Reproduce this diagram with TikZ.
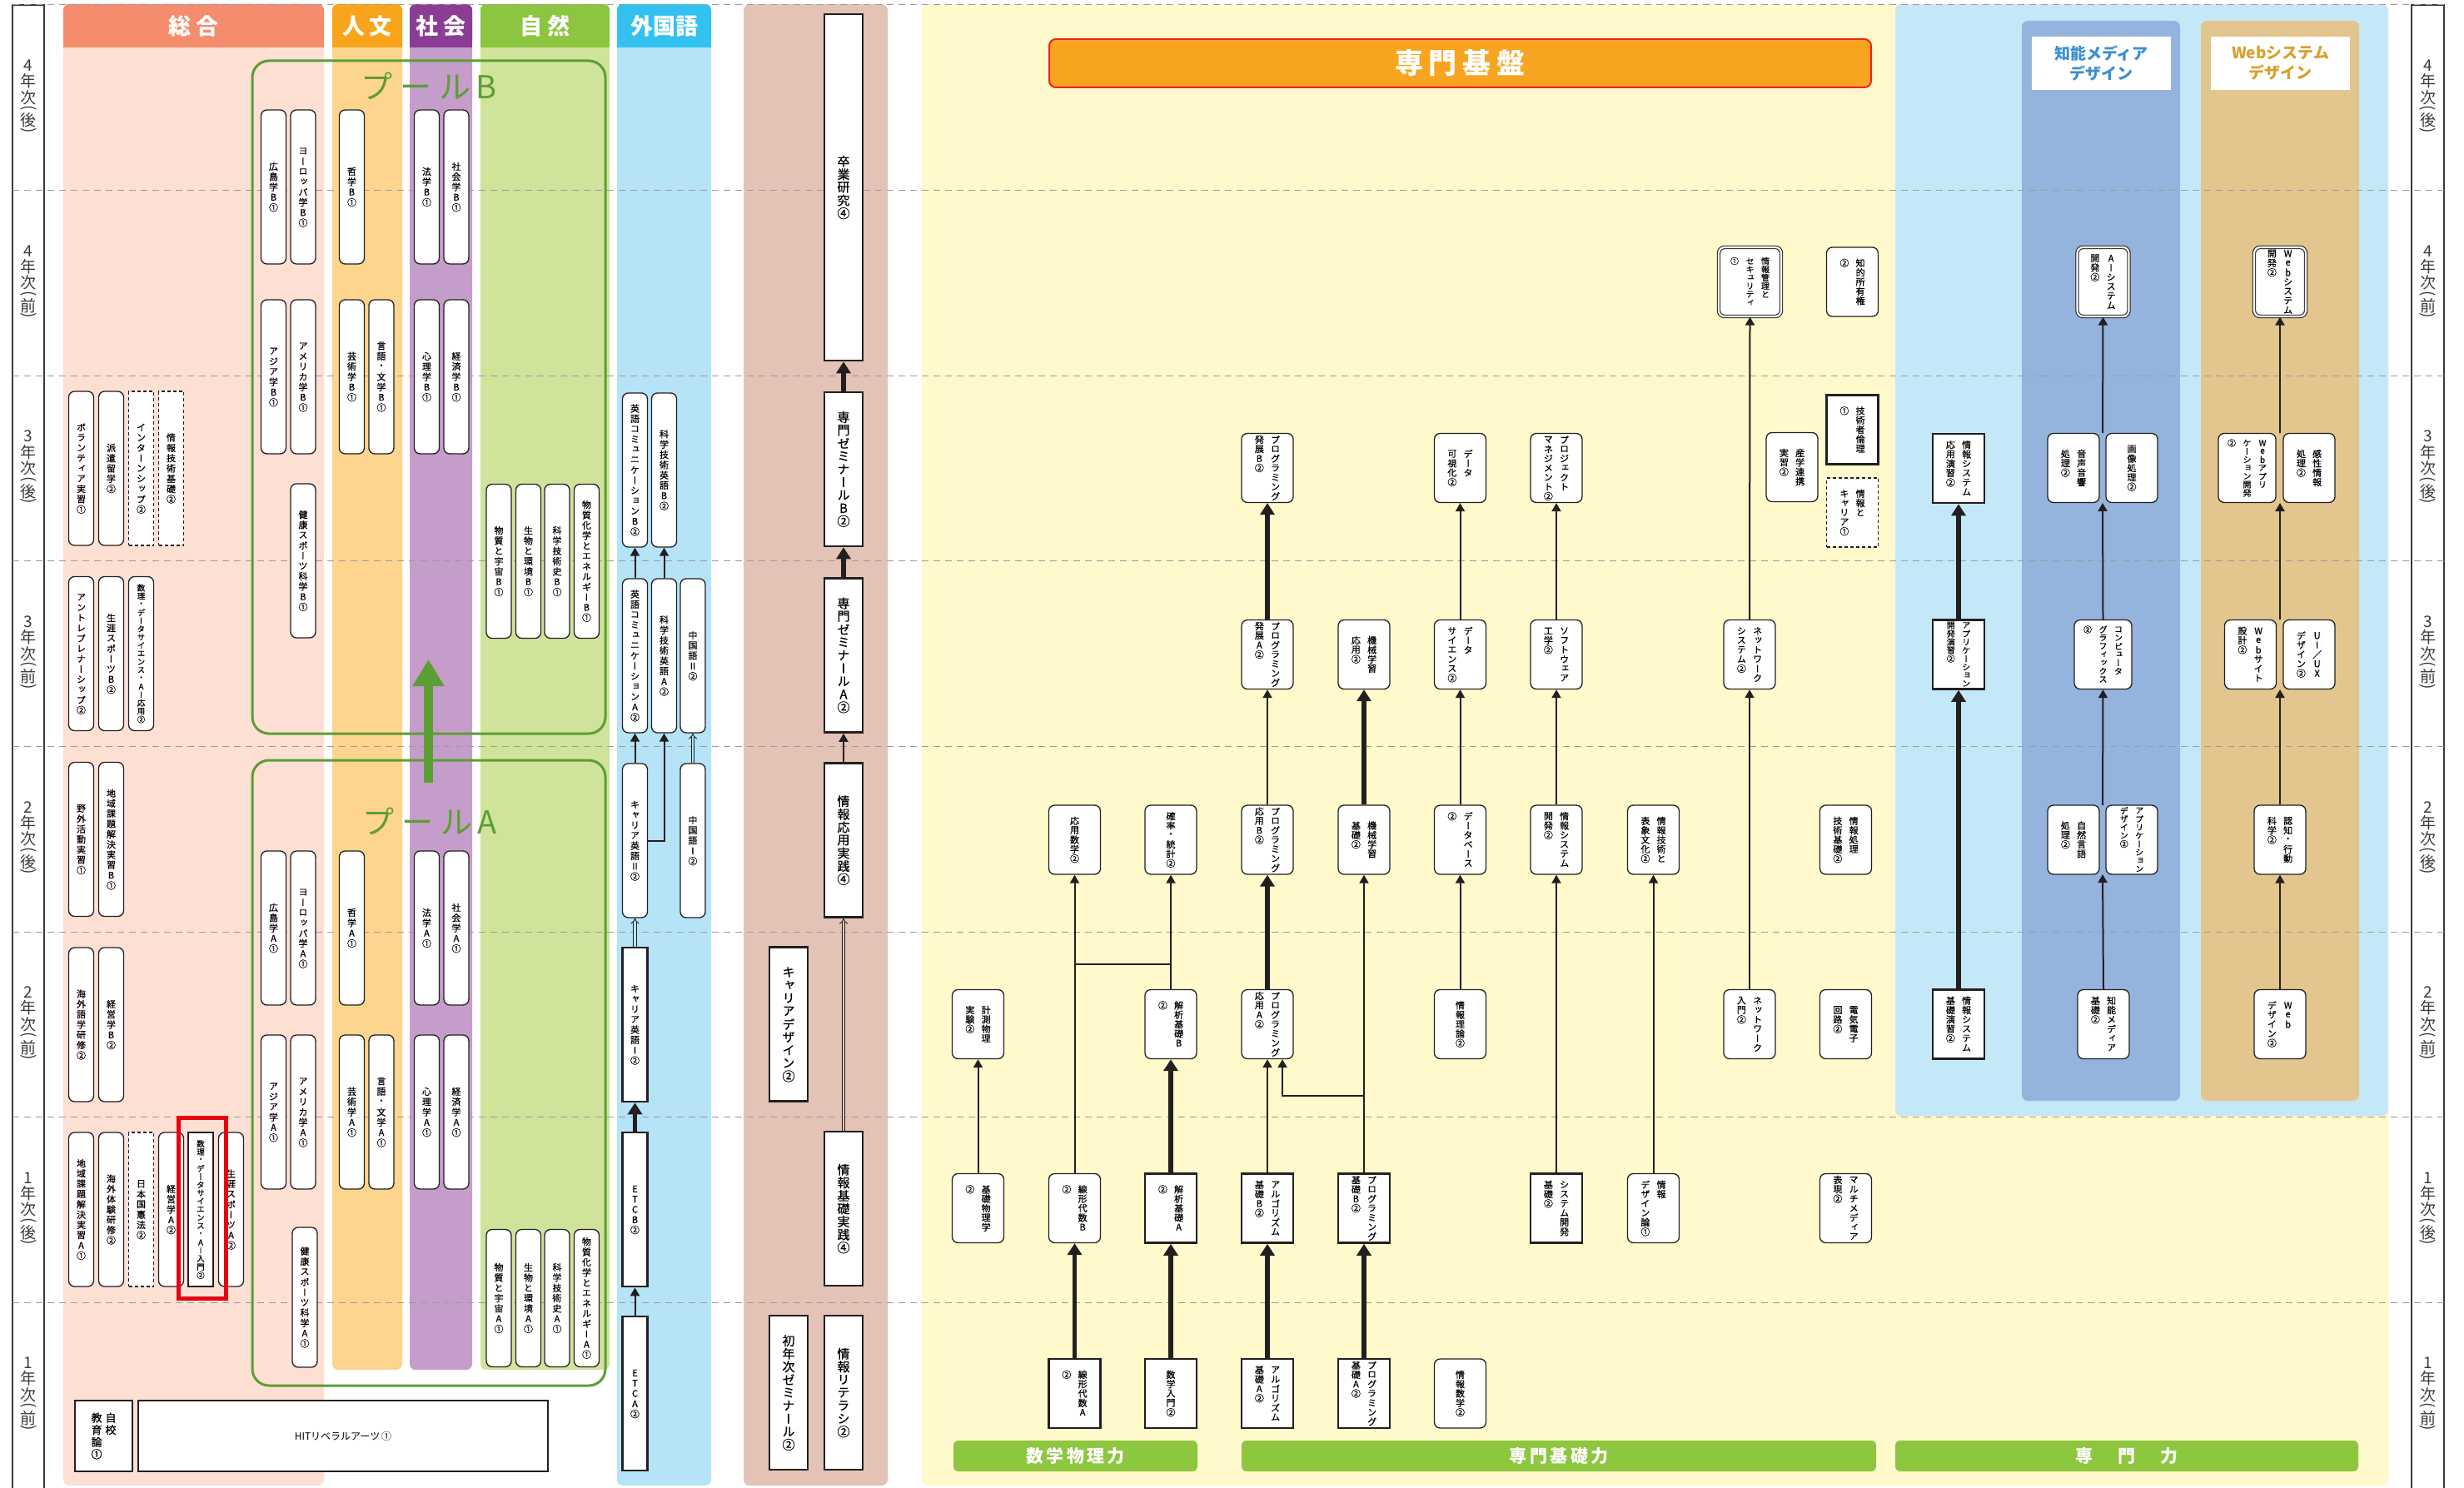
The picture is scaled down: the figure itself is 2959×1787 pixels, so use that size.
\documentclass[tikz,border=0pt]{standalone}
\usepackage{fontspec}
\usepackage{graphicx}
\usetikzlibrary{arrows.meta}
\setmainfont{Noto Sans CJK JP}
\newfontfamily\jpv{Noto Sans CJK JP}[RawFeature=+vert,FakeBold=0.7]
\definecolor{ink}{HTML}{231F20}
\definecolor{sogohd}{HTML}{F58C6C}
\definecolor{sogobg}{HTML}{FDDFD4}
\definecolor{jinhd}{HTML}{F8A51B}
\definecolor{jinbg}{HTML}{FDD58E}
\definecolor{shahd}{HTML}{8B3D95}
\definecolor{shabg}{HTML}{C49DCA}
\definecolor{shihd}{HTML}{8CC53F}
\definecolor{shibg}{HTML}{D0E39B}
\definecolor{gaihd}{HTML}{33C1EF}
\definecolor{gaibg}{HTML}{B5E3F8}
\definecolor{zemibg}{HTML}{E3C3B6}
\definecolor{yelbg}{HTML}{FFF9CB}
\definecolor{spbg}{HTML}{C5E8F8}
\definecolor{aibg}{HTML}{95B4DD}
\definecolor{webbg}{HTML}{E3C58E}
\definecolor{aitxt}{HTML}{3A8FD0}
\definecolor{webtxt}{HTML}{D9A02E}
\definecolor{barorange}{HTML}{F7A520}
\definecolor{barred}{HTML}{E8232A}
\definecolor{skillgreen}{HTML}{8DC63F}
\definecolor{poolgreen}{HTML}{5B9F33}
\definecolor{hlred}{HTML}{E60012}
\definecolor{gridgray}{HTML}{9A9A9A}
\definecolor{yeartxt}{HTML}{3A3A3A}

\ExplSyntaxOn
\newcommand\vtpitch{1.05em}
\newcommand\vtgap{0.8em}
\cs_new_protected:Npn \vt_char:n #1
  { \vbox_to_ht:nn { \vtpitch } { \vss \hbox_to_wd:nn { 1em } { \hss #1 \hss } \vss } }
\cs_new_protected:Npn \vt_col:n #1
  { \vbox_top:n { \offinterlineskip \tl_map_function:nN {#1} \vt_char:n } }
\NewDocumentCommand \vt { m }
  {
    \seq_set_split:Nnn \l_tmpa_seq { | } {#1}
    \seq_reverse:N \l_tmpa_seq
    \hbox:n
      {
        \seq_map_inline:Nn \l_tmpa_seq { \vt_col:n {##1} \skip_horizontal:n { \vtgap } }
        \skip_horizontal:n { - \vtgap }
      }
  }
\ExplSyntaxOff

\newcommand\yl[2]{\vbox{\offinterlineskip\halign{\hfil##\hfil\cr#1\cr\noalign{\kern3pt}年\cr\noalign{\kern2pt}次\cr\noalign{\kern1pt}\rotatebox[origin=c]{-90}{(}\cr#2\cr\rotatebox[origin=c]{-90}{)}\cr}}}
\newcommand\pillfont{\jpv\fontsize{11}{11}\selectfont\def\vtpitch{1.12em}}
\newcommand\mdsfont{\jpv\fontsize{9.5}{9.5}\selectfont\def\vtpitch{1.04em}}
\newcommand\cbfont{\jpv\fontsize{11}{11}\selectfont\def\vtpitch{1.03em}\def\vtgap{0.75em}}
\newcommand\tightfont{\jpv\fontsize{10}{10}\selectfont\def\vtpitch{1.0em}\def\vtgap{0.85em}}
\newcommand\zemifont{\jpv\fontsize{15}{15}\selectfont\def\vtpitch{1.04em}}
\newcommand\headfont{\bfseries\fontsize{27}{27}\selectfont}

\tikzset{
  pill/.style={draw=ink,fill=white,line width=1.3pt,rounded corners=7pt,
    minimum width=30pt,minimum height=185pt,inner sep=0pt,font=\pillfont},
  pilld/.style={pill,sharp corners,dash pattern=on 4pt off 3pt},
  pillq/.style={pill,sharp corners,line width=2.6pt},
  cbox/.style={draw=ink,fill=white,line width=1.3pt,rounded corners=7pt,
    minimum width=62pt,minimum height=83pt,inner sep=0pt,font=\cbfont},
  cboxq/.style={cbox,sharp corners,line width=2.6pt},
  cboxd/.style={cbox,sharp corners,dash pattern=on 4pt off 3pt},
  cboxw/.style={cbox,double=white,double distance=2.2pt,line width=1.1pt},
  zbox/.style={draw=ink,fill=white,line width=2.6pt,minimum width=46pt,
    minimum height=185pt,inner sep=0pt,font=\zemifont},
  thinarr/.style={draw=ink,line width=2pt,-{Triangle[length=10pt,width=11pt]}},
  thickarr/.style={draw=ink,line width=5.5pt,-{Triangle[length=14pt,width=17pt]}},
  dblarr/.style={draw=ink,line width=0.9pt,double distance=2.6pt,-{Implies}},
  rowline/.style={gridgray,line width=1pt,dash pattern=on 8pt off 6pt},
  headtxt/.style={text=white,font=\headfont,inner sep=0pt},
  skillbar/.style={fill=skillgreen,rounded corners=6pt,minimum height=37pt,inner sep=0pt,
    text=white,font=\bfseries\fontsize{21}{21}\selectfont},
}

\begin{document}
\begin{tikzpicture}[x=1pt,y=-1pt,
  yearlab/.style={text=yeartxt,font=\fontsize{19}{19}\selectfont,inner sep=0pt},
  pool/.style={draw=poolgreen,line width=3pt,rounded corners=20pt},
  poollab/.style={text=poolgreen,font=\fontsize{38}{38}\selectfont,inner sep=0pt},
  panelhd/.style={fill=white,minimum width=167pt,minimum height=64pt,inner sep=0pt,
    align=center,font=\bfseries\fontsize{19}{24}\selectfont}]
\useasboundingbox (0,0) rectangle (2959,1787);

\foreach \xa/\xb/\hc/\bc/\yb/\nm [count=\i] in {76/389/sogohd/sogobg/1784/{総\hspace{7pt}合},
    399/483/jinhd/jinbg/1645/{人\hspace{6pt}文}, 492/567/shahd/shabg/1645/{社\hspace{6pt}会},
    577/732/shihd/shibg/1645/{自\hspace{6pt}然}, 741/854/gaihd/gaibg/1784/外国語}{
  \fill[\bc,rounded corners=7pt] (\xa,5) rectangle (\xb,\yb);
  \fill[\hc,rounded corners=7pt] (\xa,5) rectangle (\xb,57);
  \fill[\hc] (\xa,30) rectangle (\xb,57);
  \node[headtxt] (head\i) at ({(\xa+\xb)/2},31) {\nm};
}
\fill[zemibg,rounded corners=7pt] (893,5) rectangle (1066,1784);
\fill[yelbg,rounded corners=7pt] (1107,5) rectangle (2868,1784);
\fill[spbg,rounded corners=7pt] (2276,5) rectangle (2868,1340);
\fill[aibg,rounded corners=7pt] (2428,25) rectangle (2618,1322);
\fill[webbg,rounded corners=7pt] (2643,25) rectangle (2833,1322);

\draw[yeartxt,line width=1.5pt] (15,6) rectangle (53,1795);
\draw[yeartxt,line width=1.5pt] (2896,6) rectangle (2935,1795);
\foreach \k in {0,...,7}
  \draw[rowline] (15,{6+222.6*\k}) -- (2935,{6+222.6*\k});
\foreach \k/\yn/\yh in {0/4/後,1/4/前,2/3/後,3/3/前,4/2/後,5/2/前,6/1/後,7/1/前}{
  \node[yearlab] (yl\k) at (34,{117.3+222.6*\k}) {\yl{\yn}{\yh}};
  \node[yearlab] (yr\k) at (2915.5,{117.3+222.6*\k}) {\yl{\yn}{\yh}};
}

\node[panelhd,text=aitxt] (aihd) at (2523.5,76) {知能メディア\\デザイン};
\node[panelhd,text=webtxt] (webhd) at (2738.5,76) {Webシステム\\デザイン};
\node[draw=barred,fill=barorange,line width=2pt,rounded corners=8pt,minimum width=987pt,
  minimum height=58pt,text=white,font=\bfseries\fontsize{34}{34}\selectfont] (kiban)
  at (1753.5,76) {専\hspace{7pt}門\hspace{7pt}基\hspace{7pt}盤};
\node[skillbar,minimum width=293pt] (sugakuryoku) at (1291.5,1748.5) {数\,学\,物\,理\,力};
\node[skillbar,minimum width=762pt] (kisoryoku) at (1872,1748.5) {専\,門\,基\,礎\,力};
\node[skillbar,minimum width=556pt] (senmonryoku) at (2554,1748.5) {専\hspace{30pt}門\hspace{30pt}力};

\node[pool,minimum width=424pt,minimum height=808pt] (poolB) at (515,477) {};
\node[pool,minimum width=424pt,minimum height=751pt] (poolA) at (515,1288.5) {};
\node[poollab] (labB) at (515,103) {プ\hspace{9pt}ー\hspace{9pt}ル\hspace{6pt}B};
\node[poollab] (labA) at (516,986) {プ\hspace{9pt}ー\hspace{9pt}ル\hspace{6pt}A};
\coordinate (pa) at (514.5,940);
\coordinate (pb) at (514.5,792);
\draw[poolgreen,line width=11pt,-{Triangle[length=32pt,width=36pt]}] (pa) -- (pb);

\node[pill] (vol) at (97.5,562.5) {\vt{ボランティア実習①}};
\node[pill] (haken) at (133.5,562.5) {\vt{派遣留学②}};
\node[pilld] (intern) at (169.5,562.5) {\vt{インターンシップ②}};
\node[pilld] (jgkiso) at (205.5,562.5) {\vt{情報技術基礎②}};
\node[pill] (entre) at (97.5,785) {\vt{アントレプレナーシップ②}};
\node[pill] (shoB) at (133.5,785) {\vt{生涯スポーツB②}};
\node[pill,font=\mdsfont] (mdsOuyo) at (169.5,785) {\vt{数理・データサイエンス・AI応用②}};
\node[pill] (yagai) at (97.5,1008) {\vt{野外活動実習①}};
\node[pill] (chiikiB) at (133.5,1008) {\vt{地域課題解決実習B①}};
\node[pill] (kaigo) at (97.5,1230.5) {\vt{海外語学研修②}};
\node[pill] (keiB) at (133.5,1230.5) {\vt{経営学B②}};
\node[pill] (chiikiA) at (97.5,1452.5) {\vt{地域課題解決実習A①}};
\node[pill] (kaitai) at (133.5,1452.5) {\vt{海外体験研修②}};
\node[pilld] (kenpo) at (169.5,1452.5) {\vt{日本国憲法②}};
\node[pill] (keiA) at (205.5,1452.5) {\vt{経営学A②}};
\node[pillq,font=\mdsfont] (mdsNyumon) at (241,1452.5) {\vt{数理・データサイエンス・AI入門②}};
\node[pill] (shoA) at (277.5,1452.5) {\vt{生涯スポーツA②}};

\node[pill] (hiroB) at (328.5,224.5) {\vt{広島学B①}};
\node[pill] (euroB) at (364,224.5) {\vt{ヨーロッパ学B①}};
\node[pill] (asiaB) at (328.5,452.5) {\vt{アジア学B①}};
\node[pill] (ameB) at (364,452.5) {\vt{アメリカ学B①}};
\node[pill] (kenkoB) at (364,673.5) {\vt{健康スポーツ科学B①}};
\node[pill] (tetsuB) at (422.5,224.5) {\vt{哲学B①}};
\node[pill] (geiB) at (422.5,452.5) {\vt{芸術学B①}};
\node[pill] (genB) at (458,452.5) {\vt{言語・文学B①}};
\node[pill] (houB) at (512.5,224.5) {\vt{法学B①}};
\node[pill] (shakaiB) at (548,224.5) {\vt{社会学B①}};
\node[pill] (shinB) at (512.5,452.5) {\vt{心理学B①}};
\node[pill] (keizaiB) at (548,452.5) {\vt{経済学B①}};
\node[pill] (uchuB) at (599,674) {\vt{物質と宇宙B①}};
\node[pill] (kankyoB) at (634.5,674) {\vt{生物と環境B①}};
\node[pill] (gijutsuB) at (669,674) {\vt{科学技術史B①}};
\node[pill] (energyB) at (704.5,674) {\vt{物質化学とエネルギーB①}};

\node[pill] (hiroA) at (328.5,1114.5) {\vt{広島学A①}};
\node[pill] (euroA) at (364,1114.5) {\vt{ヨーロッパ学A①}};
\node[pill] (asiaA) at (328.5,1335.5) {\vt{アジア学A①}};
\node[pill] (ameA) at (364,1335.5) {\vt{アメリカ学A①}};
\node[pill,minimum height=168pt] (kenkoA) at (366,1558) {\vt{健康スポーツ科学A①}};
\node[pill] (tetsuA) at (422.5,1114.5) {\vt{哲学A①}};
\node[pill] (geiA) at (422.5,1335.5) {\vt{芸術学A①}};
\node[pill] (genA) at (458,1335.5) {\vt{言語・文学A①}};
\node[pill] (houA) at (512.5,1114.5) {\vt{法学A①}};
\node[pill] (shakaiA) at (548,1114.5) {\vt{社会学A①}};
\node[pill] (shinA) at (512.5,1335.5) {\vt{心理学A①}};
\node[pill] (keizaiA) at (548,1335.5) {\vt{経済学A①}};
\node[pill,minimum height=165pt] (uchuA) at (599,1559) {\vt{物質と宇宙A①}};
\node[pill,minimum height=165pt] (kankyoA) at (634.5,1559) {\vt{生物と環境A①}};
\node[pill,minimum height=165pt] (gijutsuA) at (669,1559) {\vt{科学技術史A①}};
\node[pill,minimum height=165pt] (energyA) at (704.5,1559) {\vt{物質化学とエネルギーA①}};

\node[pill] (eicomB) at (762.5,564.5) {\vt{英語コミュニケーションB②}};
\node[pill] (kagieiB) at (797.5,564.5) {\vt{科学技術英語B②}};
\node[pill] (eicomA) at (762.5,787.5) {\vt{英語コミュニケーションA②}};
\node[pill] (kagieiA) at (797.5,787.5) {\vt{科学技術英語A②}};
\node[pill] (chu2) at (832,787.5) {\vt{中国語Ⅱ②}};
\node[pill] (career2) at (762.5,1009.5) {\vt{キャリア英語Ⅱ②}};
\node[pill] (chu1) at (832,1009.5) {\vt{中国語Ⅰ②}};
\node[pillq] (career1) at (762.5,1230.5) {\vt{キャリア英語Ⅰ②}};
\node[pillq] (etcB) at (762.5,1452.5) {\vt{ETCB②}};
\node[pillq] (etcA) at (762.5,1673.5) {\vt{ETCA②}};

\node[zbox,minimum height=416pt] (sotsu) at (1013,225) {\vt{卒業研究④}};
\node[zbox] (zemiB) at (1013,563.5) {\vt{専門ゼミナールB②}};
\node[zbox] (zemiA) at (1013,787) {\vt{専門ゼミナールA②}};
\node[zbox] (oyojissen) at (1013,1009) {\vt{情報応用実践④}};
\node[zbox] (cdesign) at (947,1230) {\vt{キャリアデザイン②}};
\node[zbox] (kisojissen) at (1013,1451.5) {\vt{情報基礎実践④}};
\node[zbox] (shonen) at (947,1672.5) {\vt{初年次ゼミナール②}};
\node[zbox] (literacy) at (1013,1672.5) {\vt{情報リテラシ②}};

\node[draw=ink,fill=white,line width=2.6pt,minimum width=69pt,minimum height=85pt,inner sep=0pt,
  font={\jpv\fontsize{13}{13}\selectfont\def\vtpitch{1.12em}\def\vtgap{0.3em}}] (jiko)
  at (124.5,1724.5) {\vt{自校|教育論①}};
\node[draw=ink,fill=white,line width=2.6pt,minimum width=492pt,minimum height=85pt,
  font=\fontsize{12}{12}\selectfont] (hit) at (412,1724.5) {HITリベラルアーツ\,①};

\node[cbox] (keisoku) at (1174.5,1230) {\vt{計測物理|実験②}};
\node[cbox] (kisobutsu) at (1174.5,1451) {\vt{基礎物理学|②}};
\node[cbox] (ouyosugaku) at (1290.5,1008.5) {\vt{応用数学②}};
\node[cbox] (senkeiB) at (1290.5,1451) {\vt{線形代数B|②}};
\node[cboxq] (senkeiA) at (1290.5,1673.5) {\vt{線形代数A|②}};
\node[cbox] (kakuritsu) at (1406,1008.5) {\vt{確率・統計②}};
\node[cbox] (kaisekiB) at (1406,1230) {\vt{解析基礎B|②}};
\node[cboxq] (kaisekiA) at (1406,1451) {\vt{解析基礎A|②}};
\node[cboxq] (sugakunyumon) at (1406,1673.5) {\vt{数学入門②}};
\node[cbox] (hattenB) at (1522,562) {\vt{プログラミング|発展B②}};
\node[cbox] (hattenA) at (1522,786) {\vt{プログラミング|発展A②}};
\node[cbox] (ouyoB) at (1522,1008.5) {\vt{プログラミング|応用B②}};
\node[cbox] (ouyoA) at (1522,1230) {\vt{プログラミング|応用A②}};
\node[cboxq] (algoB) at (1522,1451) {\vt{アルゴリズム|基礎B②}};
\node[cboxq] (algoA) at (1522,1673.5) {\vt{アルゴリズム|基礎A②}};
\node[cbox] (mlOuyo) at (1638,786) {\vt{機械学習|応用②}};
\node[cbox] (mlKiso) at (1638,1008.5) {\vt{機械学習|基礎②}};
\node[cboxq] (progB) at (1638,1451) {\vt{プログラミング|基礎B②}};
\node[cboxq] (progA) at (1638,1673.5) {\vt{プログラミング|基礎A②}};
\node[cbox] (kashika) at (1753.5,562) {\vt{データ|可視化②}};
\node[cbox] (dsci) at (1753.5,786) {\vt{データ|サイエンス②}};
\node[cbox] (dbase) at (1753.5,1008.5) {\vt{データベース|②}};
\node[cbox] (riron) at (1753.5,1230) {\vt{情報理論②}};
\node[cbox] (josu) at (1753.5,1673.5) {\vt{情報数学②}};
\node[cbox] (pm) at (1869,562) {\vt{プロジェクト|マネジメント②}};
\node[cbox] (soft) at (1869,786) {\vt{ソフトウェア|工学②}};
\node[cbox] (sysdev) at (1869,1008.5) {\vt{情報システム|開発②}};
\node[cboxq] (syskiso) at (1869,1451) {\vt{システム開発|基礎②}};
\node[cbox] (hyosho) at (1985.5,1008.5) {\vt{情報技術と|表象文化②}};
\node[cbox] (jdesign) at (1985.5,1451) {\vt{情報|デザイン論①}};
\node[cboxw,minimum width=75pt,font=\tightfont] (security) at (2101.5,338.5) {\vt{情報管理と|セキュリティ|①}};
\node[cbox] (netsys) at (2101,786) {\vt{ネットワーク|システム②}};
\node[cbox] (netnyu) at (2101,1230) {\vt{ネットワーク|入門②}};
\node[cbox] (sangaku) at (2152,561) {\vt{産学連携|実習②}};
\node[cbox] (chiteki) at (2224.5,338.5) {\vt{知的所有権|②}};
\node[cboxq] (rinri) at (2224.5,516) {\vt{技術者倫理|①}};
\node[cboxd] (jcareer) at (2224.5,615.5) {\vt{情報と|キャリア①}};
\node[cbox] (shori) at (2216.5,1008.5) {\vt{情報処理|技術基礎②}};
\node[cbox] (denki) at (2216.5,1230) {\vt{電気電子|回路②}};
\node[cbox] (multi) at (2216.5,1451) {\vt{マルチメディア|表現②}};
\node[cboxq] (sysouyo) at (2352,562.5) {\vt{情報システム|応用演習②}};
\node[cboxq,font=\tightfont] (appdev) at (2352,786) {\vt{アプリケーション|開発演習②}};
\node[cboxq] (syskisoen) at (2352,1230) {\vt{情報システム|基礎演習②}};

\node[cboxw] (aisys) at (2525.5,338.5) {\vt{AIシステム|開発②}};
\node[cbox] (onsei) at (2490,562) {\vt{音声音響|処理②}};
\node[cbox] (gazo) at (2560,562) {\vt{画像処理②}};
\node[cbox,minimum width=69pt,font=\tightfont] (cg) at (2525.5,786) {\vt{コンピュータ|グラフィックス|②}};
\node[cbox] (nlp) at (2490,1008.5) {\vt{自然言語|処理②}};
\node[cbox,font=\tightfont] (appdes) at (2560,1008.5) {\vt{アプリケーション|デザイン②}};
\node[cbox] (aikiso) at (2526,1230) {\vt{知能メディア|基礎②}};
\node[cboxw] (websys) at (2738,338.5) {\vt{Webシステム|開発②}};
\node[cbox,minimum width=69pt,font=\tightfont] (webapp) at (2698.5,562) {\vt{Webアプリ|ケーション開発|②}};
\node[cbox] (kansei) at (2773,562) {\vt{感性情報|処理②}};
\node[cbox] (website) at (2702.5,786) {\vt{Webサイト|設計②}};
\node[cbox] (uiux) at (2773,786) {\vt{UI／UX|デザイン②}};
\node[cbox] (ninchi) at (2738,1008.5) {\vt{認知・行動|科学②}};
\node[cbox] (webdes) at (2738,1230) {\vt{Web|デザイン②}};

\node[draw=hlred,line width=5pt,minimum width=57pt,minimum height=217pt,inner sep=0pt] (hl) at (242.5,1450.5) {};

\coordinate (mjoin) at (1290.5,1158);
\coordinate (pjoin) at (1638,1316);
\coordinate (aij4) at (2525,1050);
\coordinate (aij4t) at (2525,967);
\coordinate (aij2) at (2525,604);
\coordinate (aij2t) at (2525,520);
\coordinate (wj3) at (2738,828);
\coordinate (wj3t) at (2738,744);
\coordinate (wj2) at (2738,604);
\coordinate (wj2t) at (2738,520);

\draw[thinarr] (kisobutsu.north) -- (keisoku.south);
\draw[thinarr] (senkeiB.north) -- (ouyosugaku.south);
\draw[thinarr] (kaisekiB.north) -- (kakuritsu.south);
\draw[draw=ink,line width=2pt] (mjoin) -- (mjoin -| kaisekiB.north);
\draw[thinarr] (algoB.north) -- (ouyoA.south);
\draw[thinarr] (progB.north) -- (mlKiso.south);
\draw[thinarr] (pjoin) -| ([xshift=18pt]ouyoA.south);
\draw[thinarr] (ouyoB.north) -- (hattenA.south);
\draw[thinarr] (riron.north) -- (dbase.south);
\draw[thinarr] (dbase.north) -- (dsci.south);
\draw[thinarr] (dsci.north) -- (kashika.south);
\draw[thinarr] (syskiso.north) -- (sysdev.south);
\draw[thinarr] (sysdev.north) -- (soft.south);
\draw[thinarr] (soft.north) -- (pm.south);
\draw[thinarr] (jdesign.north) -- (hyosho.south);
\draw[thinarr] (netnyu.north) -- (netsys.south);
\draw[thinarr] (netsys.north) -- (security.south);
\draw[thinarr] (aikiso.north) -- (aij4);
\draw[thinarr] (aij4t) -- (cg.south);
\draw[thinarr] (cg.north) -- (aij2);
\draw[thinarr] (aij2t) -- (aisys.south);
\draw[thinarr] (webdes.north) -- (ninchi.south);
\draw[thinarr] (ninchi.north) -- (wj3);
\draw[thinarr] (wj3t) -- (wj2);
\draw[thinarr] (wj2t) -- (websys.south);
\draw[thinarr] (eicomA.north) -- (eicomB.south);
\draw[thinarr] (kagieiA.north) -- (kagieiB.south);
\draw[thinarr] (career2.north) -- (eicomA.south);
\draw[thinarr] (career2.east) -| (kagieiA.south);
\draw[thinarr] (etcA.north) -- (etcB.south);
\draw[thinarr] (oyojissen.north) -- (zemiA.south);

\draw[thickarr] (senkeiA.north) -- (senkeiB.south);
\draw[thickarr] (sugakunyumon.north) -- (kaisekiA.south);
\draw[thickarr] (kaisekiA.north) -- (kaisekiB.south);
\draw[thickarr] (algoA.north) -- (algoB.south);
\draw[thickarr] (progA.north) -- (progB.south);
\draw[thickarr] (ouyoA.north) -- (ouyoB.south);
\draw[thickarr] (hattenA.north) -- (hattenB.south);
\draw[thickarr] (mlKiso.north) -- (mlOuyo.south);
\draw[thickarr] (syskisoen.north) -- (appdev.south);
\draw[thickarr] (appdev.north) -- (sysouyo.south);
\draw[thickarr] (etcB.north) -- (career1.south);
\draw[thickarr] (zemiA.north) -- (zemiB.south);
\draw[thickarr] (zemiB.north) -- (sotsu.south);

\draw[dblarr,double=gaibg] (career1.north) -- (career2.south);
\draw[dblarr,double=gaibg] (chu1.north) -- (chu2.south);
\draw[dblarr,double=zemibg] (kisojissen.north) -- (oyojissen.south);
\end{tikzpicture}
\end{document}
